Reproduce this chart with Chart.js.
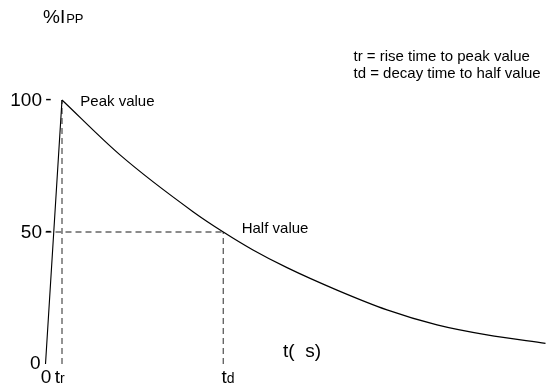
<!DOCTYPE html>
<html>
<head>
<meta charset="utf-8">
<script src="https://cdn.jsdelivr.net/npm/chart.js@4"></script>
<style>
  html, body { margin: 0; padding: 0; background: #ffffff; }
  canvas { display: block; }
</style>
</head>
<body>
<canvas id="c" width="546" height="388"></canvas>
<script>
// ---- data (time axis in arbitrary units) ----
const riseTimes   = [0, 16.5];
const riseValues  = [0, 100];
const decayTimes  = [16.5, 74.5, 147.5, 177.8, 207.5, 241.5, 291.5, 341.5, 391.5, 441.5, 500];
const decayValues = [100, 79.2, 57.7, 50, 43.2, 36.5, 28.0, 20.5, 14.8, 11.0, 7.8];
const trTime = 16.5;
const tdTime = 177.8;
const peakValue = 100;
const halfValue = 50;
const yTickValues = [0, 50, 100];
const yTickLabels = ['0', '50', '100'];
const xTickLabels = ['0', 't', 't'];
const xTickSubs   = ['', 'r', 'd'];
const legendLines = ['tr = rise time to peak value', 'td = decay time to half value'];

const toPts = (xs, ys) => xs.map((x, i) => ({ x: x, y: ys[i] }));
const FONT = '"Liberation Sans", Arial, sans-serif';
const DASH = '#666666';

const textPlugin = {
  id: 'labels',
  afterDraw(chart) {
    const ctx = chart.ctx;
    const xs = chart.scales.x, ys = chart.scales.y;
    ctx.save();
    ctx.fillStyle = '#000';

    // y axis title %I_PP
    ctx.textBaseline = 'alphabetic';
    ctx.textAlign = 'left';
    ctx.font = '19px ' + FONT;
    ctx.fillText('%I', 43, 23);
    const w = ctx.measureText('%I').width;
    ctx.font = '13px ' + FONT;
    ctx.fillText('PP', 43 + w + 1, 23);

    // y tick labels
    ctx.font = '19px ' + FONT;
    ctx.textBaseline = 'middle';
    yTickValues.forEach((v, i) => {
      const py = ys.getPixelForValue(v);
      ctx.textAlign = 'right';
      if (v === 0) {
        ctx.fillText(yTickLabels[i], xs.getPixelForValue(0) - 5, py);
      } else {
        ctx.fillText(yTickLabels[i], xs.getPixelForValue(0) - 3.5, py + 1);
        ctx.textAlign = 'center';
        ctx.fillText('-', xs.getPixelForValue(0) + 3, py);
      }
    });

    // x tick labels
    ctx.textBaseline = 'alphabetic';
    ctx.textAlign = 'center';
    ctx.font = '19px ' + FONT;
    ctx.fillText(xTickLabels[0], xs.getPixelForValue(0) + 0.5, 383);
    const xPos = [null, xs.getPixelForValue(trTime) - 7.3, xs.getPixelForValue(tdTime) - 1.8];
    [1, 2].forEach(i => {
      ctx.textAlign = 'left';
      ctx.font = '19px ' + FONT;
      ctx.fillText(xTickLabels[i], xPos[i], 382.5);
      const tw = ctx.measureText(xTickLabels[i]).width;
      ctx.font = '14px ' + FONT;
      ctx.fillText(xTickSubs[i], xPos[i] + tw, 382.5);
    });

    // x axis title
    ctx.font = '19px ' + FONT;
    ctx.textAlign = 'left';
    ctx.fillText('t(  s)', 283, 357);

    // annotations
    ctx.font = '15px ' + FONT;
    ctx.fillText('Peak value', xs.getPixelForValue(trTime) + 18.3, ys.getPixelForValue(peakValue) + 5.5);
    ctx.fillText('Half value', xs.getPixelForValue(tdTime) + 18.4, ys.getPixelForValue(halfValue) + 0.5);

    // legend text
    ctx.font = '15px ' + FONT;
    ctx.fillText(legendLines[0], 353.5, 60.5);
    ctx.fillText(legendLines[1], 353.5, 78);
    ctx.restore();
  }
};

const dashedStyle = {
  showLine: true, pointRadius: 0, borderColor: DASH, borderWidth: 1.4,
  borderDash: [6, 4], clip: false, order: 2, fill: false
};

new Chart(document.getElementById('c'), {
  type: 'scatter',
  data: {
    datasets: [
      Object.assign({ data: [{x: trTime, y: 0}, {x: trTime, y: peakValue}] }, dashedStyle),
      Object.assign({ data: [{x: tdTime, y: 0}, {x: tdTime, y: halfValue}] }, dashedStyle),
      Object.assign({ data: [{x: 0, y: halfValue}, {x: tdTime, y: halfValue}] }, dashedStyle),
      {
        data: toPts(riseTimes, riseValues), showLine: true, pointRadius: 0,
        borderColor: '#000', borderWidth: 1.1, clip: false, order: 1
      },
      {
        data: toPts(decayTimes, decayValues), showLine: true, pointRadius: 0,
        borderColor: '#000', borderWidth: 1.2, cubicInterpolationMode: 'monotone',
        clip: false, order: 1
      }
    ]
  },
  options: {
    responsive: false,
    animation: false,
    devicePixelRatio: 1,
    layout: { padding: { left: 45.5, right: 0.5, top: 100, bottom: 24 } },
    plugins: { legend: { display: false }, tooltip: { enabled: false }, title: { display: false } },
    scales: {
      x: { type: 'linear', display: false, min: 0, max: 500 },
      y: { type: 'linear', display: false, min: 0, max: 100 }
    }
  },
  plugins: [textPlugin]
});
</script>
</body>
</html>
